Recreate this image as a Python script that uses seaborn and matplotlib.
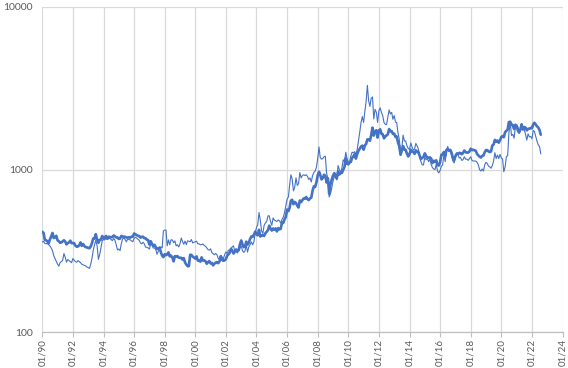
import matplotlib
matplotlib.use("Agg")
import matplotlib.pyplot as plt
from matplotlib.ticker import NullLocator, FixedLocator
import pandas as pd
import seaborn as sns

# Monthly values, Jan 1990 .. Aug 2022 (thick series)
thick = [
    415, 408, 370, 368, 363, 352, 372, 388, 408, 380, 384, 392,   # 1990
    367, 363, 355, 357, 362, 368, 362, 347, 354, 357, 366, 353,   # 1991
    354, 353, 341, 336, 337, 343, 357, 340, 349, 339, 334, 333,   # 1992
    330, 329, 337, 354, 377, 377, 401, 372, 355, 370, 371, 391,   # 1993
    378, 381, 391, 376, 387, 386, 384, 385, 394, 389, 383, 383,   # 1994
    375, 377, 391, 389, 385, 387, 383, 382, 384, 382, 387, 387,   # 1995
    405, 400, 396, 392, 391, 382, 386, 387, 379, 379, 371, 369,   # 1996
    346, 363, 351, 340, 345, 334, 326, 325, 332, 311, 296, 290,   # 1997
    302, 298, 301, 310, 293, 296, 289, 273, 294, 292, 294, 288,   # 1998
    287, 287, 280, 286, 269, 261, 255, 255, 300, 299, 292, 288,   # 1999
    284, 293, 276, 276, 272, 289, 276, 277, 273, 264, 270, 274,   # 2000
    265, 267, 258, 264, 268, 270, 266, 273, 294, 279, 275, 277,   # 2001
    282, 296, 301, 308, 326, 318, 305, 313, 323, 317, 319, 347,   # 2002
    367, 347, 334, 336, 361, 346, 355, 375, 388, 386, 398, 416,   # 2003
    400, 395, 427, 388, 393, 395, 391, 407, 415, 425, 453, 435,   # 2004
    422, 435, 428, 435, 417, 437, 429, 433, 473, 470, 495, 513,   # 2005
    569, 556, 582, 644, 653, 613, 633, 623, 600, 585, 646, 632,   # 2006
    650, 665, 662, 679, 659, 650, 665, 673, 743, 789, 783, 834,   # 2007
    923, 971, 933, 871, 886, 930, 918, 833, 884, 712, 815, 870,   # 2008
    919, 952, 916, 883, 975, 934, 955, 955, 996, 1040, 1175, 1087,  # 2009
    1078, 1109, 1115, 1180, 1207, 1244, 1169, 1246, 1307, 1346, 1386, 1405,  # 2010
    1327, 1411, 1439, 1535, 1536, 1505, 1628, 1813, 1620, 1722, 1746, 1575,  # 2011
    1744, 1770, 1662, 1651, 1558, 1598, 1622, 1648, 1776, 1720, 1726, 1658,  # 2012
    1664, 1588, 1598, 1469, 1394, 1235, 1314, 1395, 1326, 1324, 1253, 1205,  # 2013
    1244, 1326, 1291, 1288, 1250, 1315, 1285, 1285, 1217, 1164, 1182, 1199,  # 2014
    1260, 1214, 1187, 1180, 1190, 1171, 1098, 1135, 1114, 1142, 1068, 1060,  # 2015
    1111, 1234, 1237, 1285, 1215, 1321, 1342, 1309, 1322, 1273, 1178, 1146,  # 2016
    1212, 1255, 1245, 1267, 1266, 1243, 1264, 1311, 1283, 1271, 1275, 1291,  # 2017
    1345, 1318, 1325, 1316, 1305, 1250, 1224, 1202, 1187, 1215, 1222, 1279,  # 2018
    1319, 1319, 1295, 1283, 1295, 1409, 1427, 1524, 1485, 1510, 1464, 1515,  # 2019
    1589, 1609, 1583, 1702, 1730, 1768, 1962, 1970, 1887, 1880, 1776, 1888,  # 2020
    1863, 1734, 1691, 1769, 1900, 1763, 1826, 1815, 1743, 1783, 1785, 1805,  # 2021
    1795, 1900, 1942, 1897, 1849, 1817, 1754, 1640,                          # 2022
]

# Monthly values, Jan 1990 .. Aug 2022 (thin series)
thin = [
    360, 362, 352, 350, 352, 345, 340, 330, 318, 296, 284, 272,   # 1990
    262, 255, 268, 272, 276, 305, 290, 270, 280, 276, 272, 268,   # 1991
    284, 278, 272, 270, 276, 272, 268, 262, 260, 258, 256, 252,   # 1992
    250, 247, 262, 285, 320, 345, 368, 340, 281, 300, 330, 365,   # 1993
    372, 370, 380, 372, 376, 378, 372, 366, 378, 368, 345, 321,   # 1994
    325, 318, 350, 375, 380, 372, 360, 375, 372, 370, 365, 360,   # 1995
    378, 384, 380, 373, 368, 354, 350, 358, 350, 334, 333, 330,   # 1996
    325, 350, 345, 330, 330, 323, 302, 315, 325, 335, 330, 420,   # 1997
    425, 425, 340, 370, 345, 370, 370, 355, 365, 340, 345, 335,   # 1998
    350, 380, 362, 348, 364, 346, 365, 363, 360, 372, 354, 358,   # 1999
    360, 363, 350, 350, 345, 346, 349, 342, 338, 330, 322, 320,   # 2000
    326, 309, 304, 300, 305, 300, 285, 280, 295, 290, 283, 300,   # 2001
    312, 305, 320, 318, 326, 335, 340, 315, 315, 307, 318, 330,   # 2002
    340, 318, 310, 316, 345, 311, 335, 345, 360, 345, 360, 410,   # 2003
    440, 460, 545, 490, 420, 405, 455, 470, 480, 520, 520, 480,   # 2004
    455, 505, 490, 485, 480, 490, 485, 470, 495, 510, 545, 600,   # 2005
    660, 680, 800, 930, 880, 740, 780, 890, 800, 820, 960, 890,   # 2006
    920, 930, 920, 930, 910, 870, 890, 840, 920, 960, 980, 1030,  # 2007
    1170, 1380, 1190, 1160, 1170, 1200, 1210, 950, 880, 680, 710, 770,  # 2008
    850, 905, 905, 865, 1060, 1000, 960, 1025, 1150, 1120, 1280, 1170,  # 2009
    1110, 1120, 1210, 1280, 1270, 1290, 1240, 1330, 1500, 1700, 1950, 2120,  # 2010
    1950, 2300, 2600, 3300, 2650, 2450, 2750, 2800, 2050, 2350, 2250, 1950,  # 2011
    2300, 2400, 2250, 2150, 1950, 1900, 1890, 2100, 2330, 2200, 2250, 2040,  # 2012
    2150, 1960, 1950, 1680, 1540, 1300, 1350, 1630, 1500, 1500, 1400, 1350,  # 2013
    1330, 1460, 1380, 1320, 1340, 1450, 1400, 1340, 1180, 1120, 1070, 1070,  # 2014
    1190, 1150, 1170, 1120, 1160, 1080, 1030, 1010, 1000, 1080, 980, 955,    # 2015
    990, 1050, 1070, 1230, 1120, 1290, 1390, 1290, 1320, 1220, 1130, 1100,   # 2016
    1180, 1270, 1250, 1180, 1190, 1140, 1150, 1200, 1160, 1160, 1140, 1170,  # 2017
    1200, 1140, 1130, 1130, 1130, 1110, 1070, 1000, 980, 1010, 980, 1070,    # 2018
    1110, 1090, 1050, 1040, 1020, 1060, 1130, 1270, 1170, 1230, 1170, 1240,  # 2019
    1180, 1160, 970, 1040, 1200, 1220, 1680, 1950, 1620, 1650, 1560, 1820,   # 2020
    1860, 1830, 1680, 1790, 1900, 1800, 1770, 1650, 1520, 1660, 1590, 1600,  # 2021
    1550, 1740, 1720, 1600, 1500, 1420, 1390, 1250,                          # 2022
]

start_month = "1990-01-01"
x_tick_years = list(range(1990, 2025, 2))
y_ticks = [100, 1000, 10000]

sns.set_theme(style="white")
plt.rcParams['font.family'] = ['Lato', 'DejaVu Sans']

dates = pd.date_range(start_month, periods=len(thick), freq="MS")
df = pd.DataFrame({"date": dates, "thick": thick, "thin": thin[:len(thick)]})

W, H = 568, 368
fig = plt.figure(figsize=(W / 100, H / 100), dpi=100)
left, right, top, bottom = 42.3, 562.5, 7.0, 332.3
ax = fig.add_axes([left / W, 1 - bottom / H, (right - left) / W, (bottom - top) / H])

blue = "#4472C4"
sns.lineplot(data=df, x="date", y="thick", ax=ax, color=blue, linewidth=1.9)
sns.lineplot(data=df, x="date", y="thin", ax=ax, color=blue, linewidth=0.8)

ax.set_yscale("log")
ax.set_ylim(100, 10000)
ax.set_xlim(pd.Timestamp("1990-01-01"), pd.Timestamp("2024-01-01"))

ticks = [pd.Timestamp(f"{y}-01-01") for y in x_tick_years]
ax.set_xticks(ticks)
ax.set_xticklabels([t.strftime("%m/%y") for t in ticks], rotation=90)
ax.yaxis.set_major_locator(FixedLocator(y_ticks))
ax.yaxis.set_minor_locator(NullLocator())
ax.set_yticklabels([str(v) for v in y_ticks])

ax.grid(True, color="#d9d9d9", linewidth=0.9)
ax.set_axisbelow(True)
for s in ["left", "top", "right"]:
    ax.spines[s].set_visible(False)
ax.spines["bottom"].set_color("#bfbfbf")
ax.spines["bottom"].set_linewidth(0.9)

ax.tick_params(axis="x", length=3.5, width=0.8, color="#bfbfbf", labelsize=7,
               labelcolor="#595959", pad=1.5, bottom=True)
ax.tick_params(axis="y", length=0, labelsize=7.5, labelcolor="#595959", pad=7)
ax.set_xlabel("")
ax.set_ylabel("")

fig.savefig("out.png", dpi=100)
